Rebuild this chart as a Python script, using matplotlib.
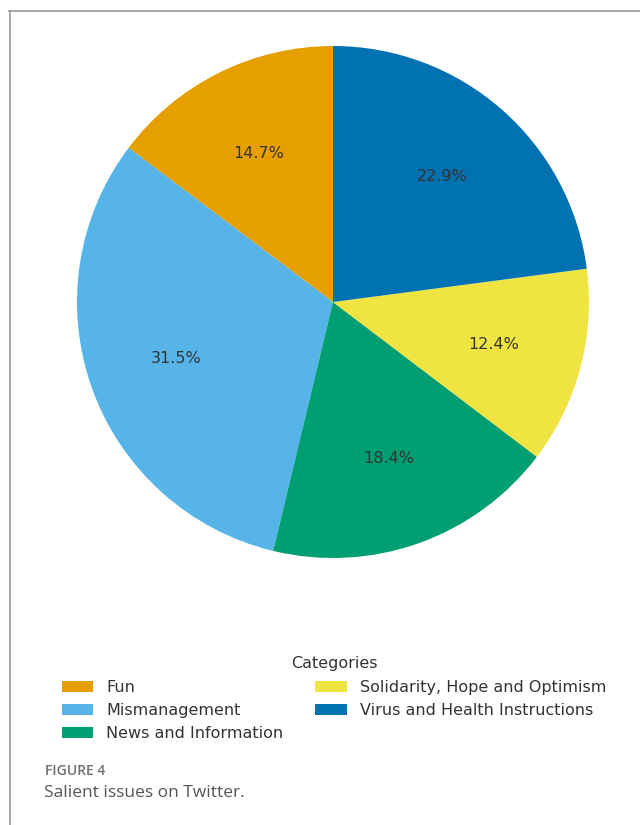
import matplotlib
matplotlib.use("Agg")
import matplotlib.pyplot as plt
from matplotlib.lines import Line2D

categories = ["Fun", "Mismanagement", "News and Information",
              "Solidarity, Hope and Optimism", "Virus and Health Instructions"]
values = [14.7, 31.5, 18.4, 12.4, 22.9]
colors = ["#E69F00", "#56B4E9", "#009E73", "#F0E442", "#0072B2"]

W, H = 640, 825
fig = plt.figure(figsize=(W/100, H/100), dpi=100)

cx, cy, r = 333, 302, 256
ax = fig.add_axes([(cx - r)/W, 1 - (cy + r)/H, 2*r/W, 2*r/H])
wedges, texts, autotexts = ax.pie(values, colors=colors, startangle=90,
                                  counterclock=True, autopct="%1.1f%%",
                                  pctdistance=0.65,
                                  textprops=dict(color="#333333", fontsize=11.5,
                                                 family="DejaVu Sans"))
for w in wedges:
    w.set_clip_on(False)
ax.set_xlim(-1, 1)
ax.set_ylim(-1, 1)
ax.set_aspect("equal")

leg = fig.legend(wedges, categories, title="Categories", ncol=2, frameon=False,
                 loc="upper center", bbox_to_anchor=(334/W, 1 - 642/H),
                 title_fontsize=11.5, handlelength=2.0,
                 handleheight=0.7, columnspacing=2.0, labelspacing=0.52,
                 prop=dict(family="DejaVu Sans", size=11.5))
for t in leg.get_texts():
    t.set_color("#333333")
leg.get_title().set_color("#333333")

# frame lines
fig.add_artist(Line2D([9/W, 1], [1 - 11/H, 1 - 11/H], transform=fig.transFigure,
                      color="#9a9a9a", lw=1.2))
fig.add_artist(Line2D([10/W, 10/W], [1 - 11/H, 0], transform=fig.transFigure,
                      color="#9a9a9a", lw=1.2))

fig.text(45/W, 1 - 771/H, "FIGURE 4", fontsize=10, color="#6e6e6e",
         family="Open Sans", weight="semibold", va="center", ha="left")
fig.text(44/W, 1 - 793/H, "Salient issues on Twitter.", fontsize=12.5,
         color="#555555", family="Open Sans", va="center", ha="left")

fig.savefig("out.png", dpi=100)
